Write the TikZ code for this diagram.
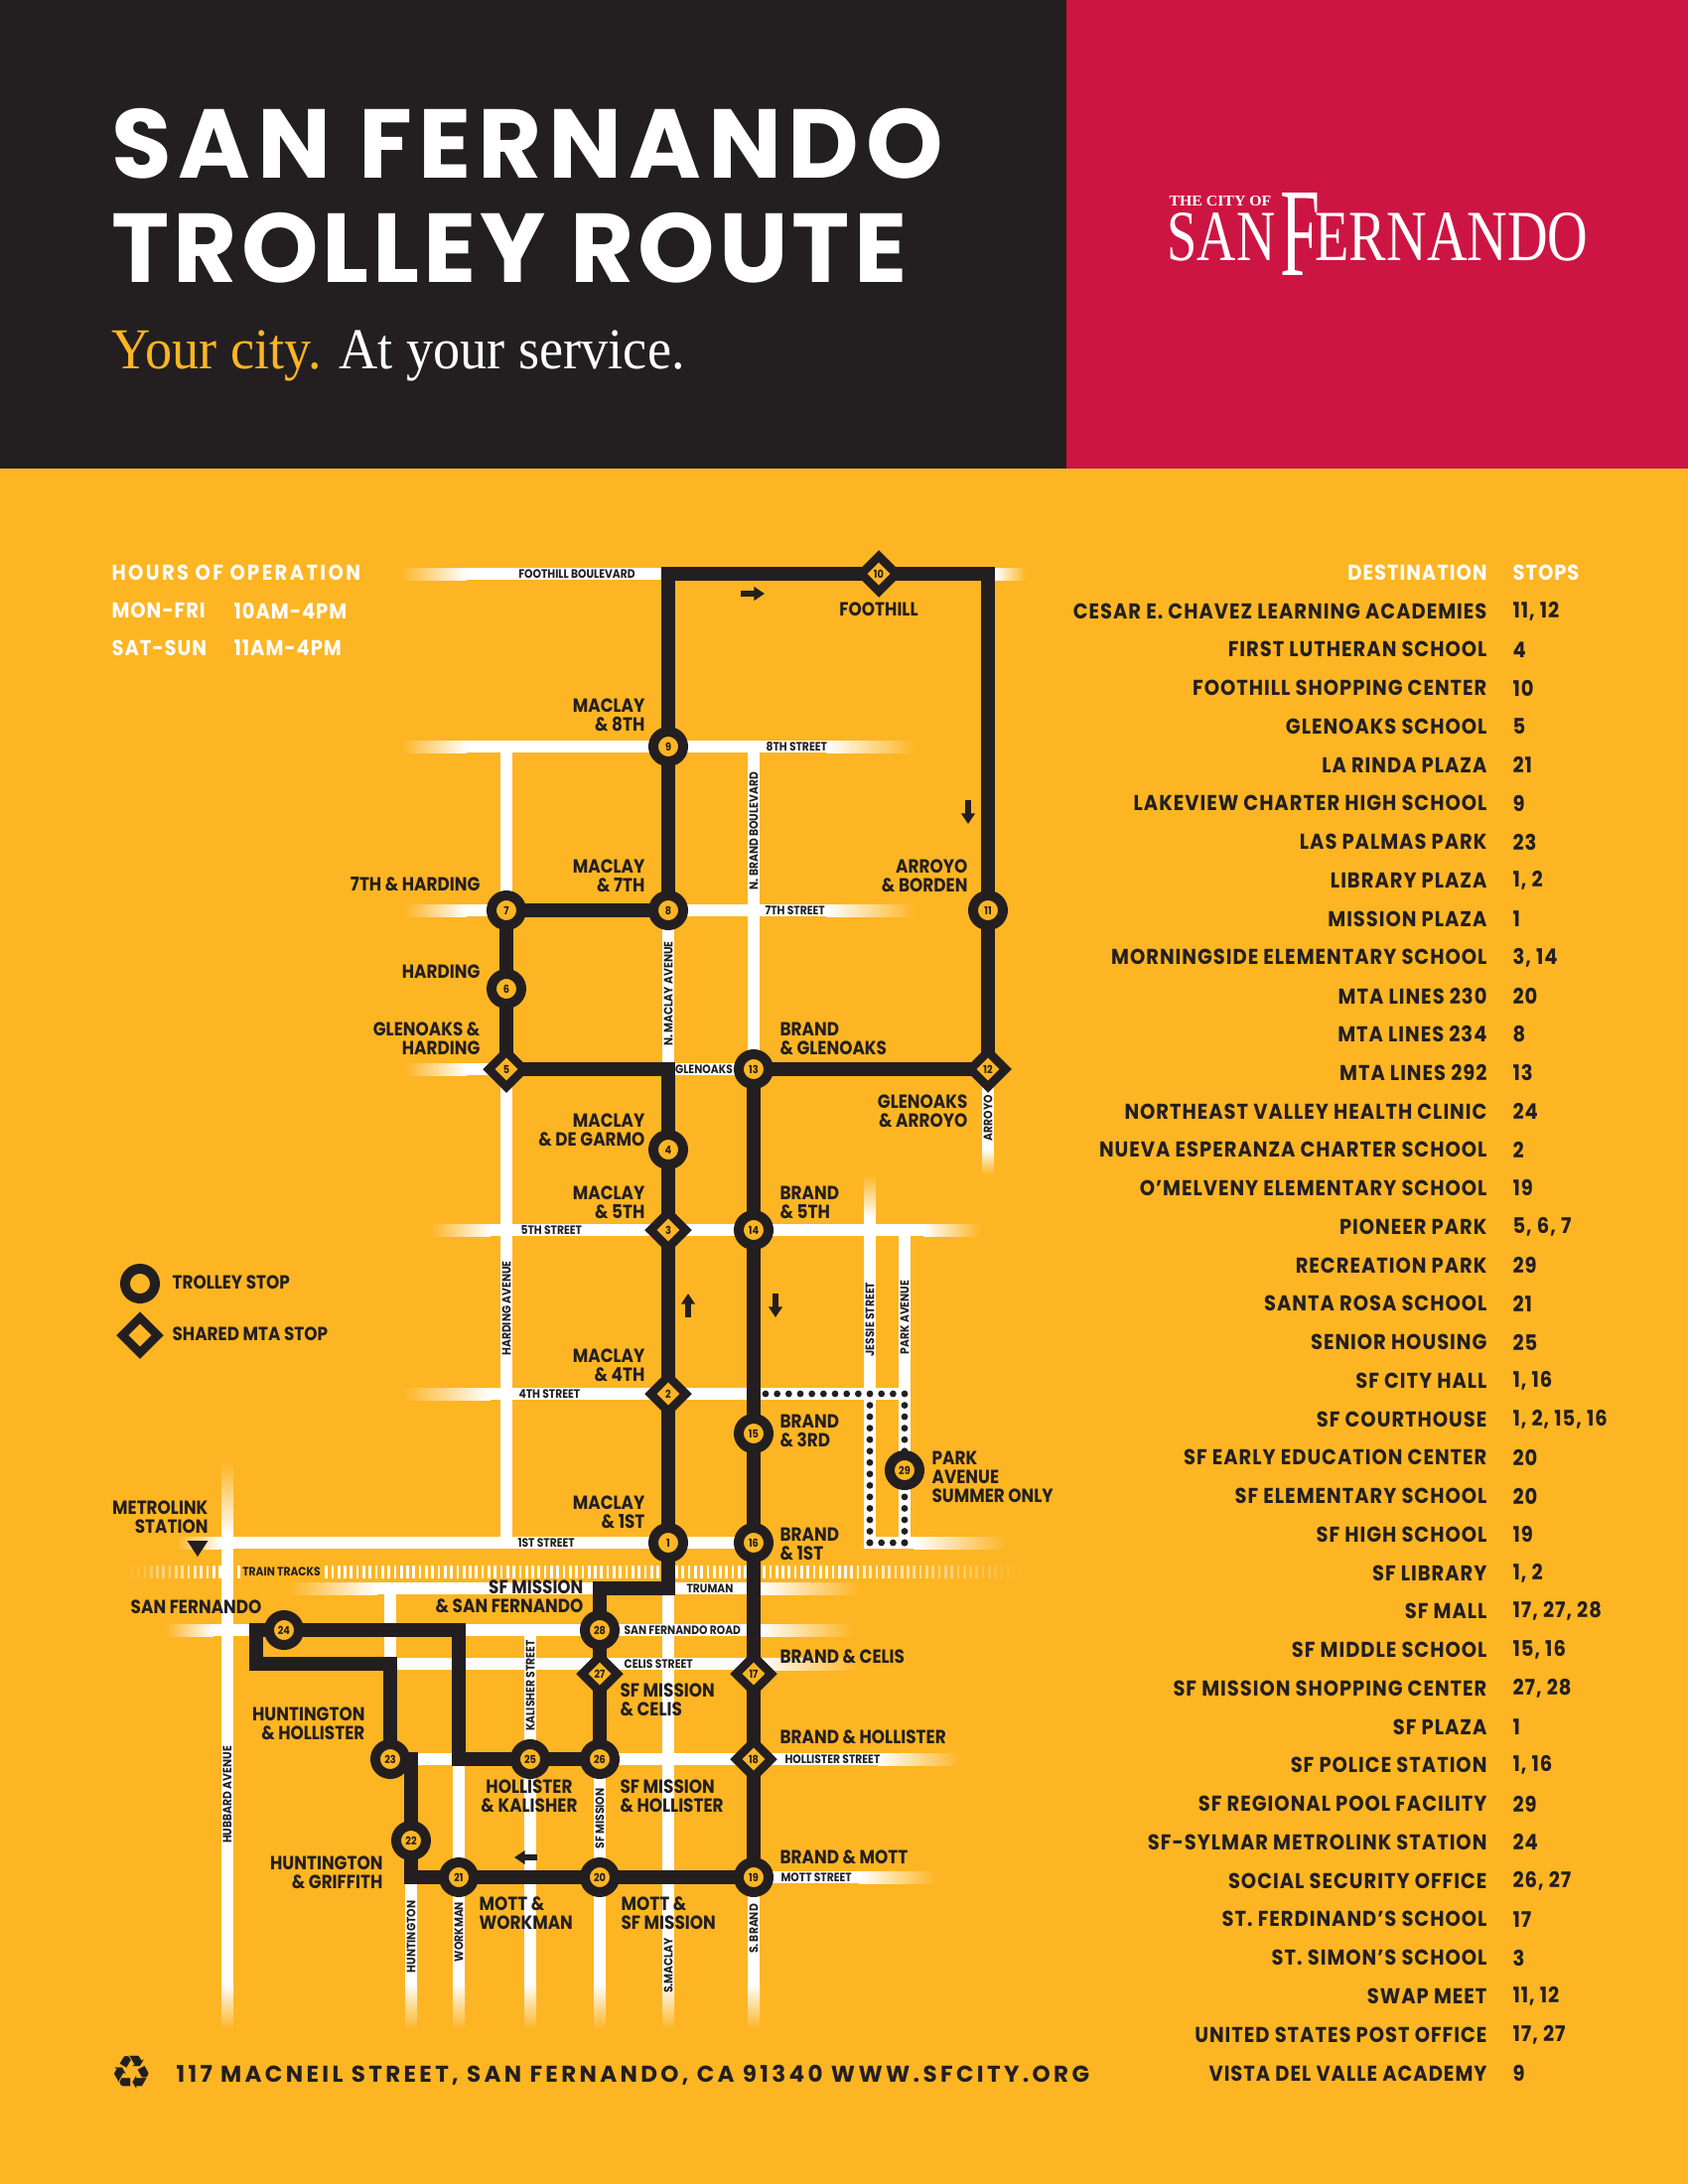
\documentclass[tikz,border=0pt]{standalone}
\usepackage{fontspec}
\usepackage{graphicx}
\usetikzlibrary{shapes.geometric,arrows.meta}
\newfontfamily\mapfont{Poppins}[FakeStretch=.88]
\newfontfamily\listfont{Poppins}[FakeStretch=.90,LetterSpace=4.5]
\newfontfamily\hoursfont{Poppins}[FakeStretch=.90,LetterSpace=11]
\newfontfamily\titlefontA{Poppins}[LetterSpace=6.8]
\newfontfamily\titlefontB{Poppins}[LetterSpace=4]
\newfontfamily\footfont{Poppins}[LetterSpace=14.5]
\newfontfamily\tagfont{Liberation Serif}[FakeStretch=.93]
\newfontfamily\logofont{Liberation Serif}
\newfontfamily\symbolfont{DejaVu Sans}
\definecolor{ink}{HTML}{231F20}
\definecolor{cityred}{HTML}{CD1543}
\definecolor{mapbg}{HTML}{FDB524}
\definecolor{taggold}{HTML}{FDB524}
\pgfdeclarelayer{roadlayer}
\pgfdeclarelayer{routelayer}
\pgfsetlayers{roadlayer,routelayer,main}
\newcommand{\fadeW}[3]{\shade[left color=mapbg,right color=white] (#1,#3-6) rectangle (#2,#3+6);}
\newcommand{\fadeE}[3]{\shade[left color=white,right color=mapbg] (#1,#3-6) rectangle (#2,#3+6);}
\newcommand{\fadeN}[3]{\shade[top color=mapbg,bottom color=white] (#3-6,#1) rectangle (#3+6,#2);}
\newcommand{\fadeS}[3]{\shade[top color=white,bottom color=mapbg] (#3-6,#1) rectangle (#3+6,#2);}

\begin{document}
\begin{tikzpicture}[x=.36pt,y=-.36pt,
    road/.style={draw=white,line width=4.4pt},
    tracktick/.style={draw=white,line width=.95pt},
    route/.style={draw=ink,line width=4.9pt,line join=miter},
    dirarrow/.style={draw=ink,line width=2pt,-{Triangle[length=3.8pt,width=4.8pt]}},
    stopcirc/.style={circle,draw=ink,line width=3.6pt,fill=mapbg,minimum size=10.8pt,inner sep=0pt,
        text=ink,font=\mapfont\bfseries\fontsize{4}{4}\selectfont},
    stopdiam/.style={diamond,aspect=1,draw=ink,line width=3.1pt,fill=mapbg,minimum size=14pt,inner sep=0pt,
        text=ink,font=\mapfont\bfseries\fontsize{4}{4}\selectfont},
    stoplabel/.style={text=ink,inner sep=0pt,font=\mapfont\bfseries\fontsize{6.9}{6.8}\selectfont},
    roadlabel/.style={text=ink,inner sep=0pt,font=\mapfont\bfseries\fontsize{4.4}{4.4}\selectfont},
    listlabel/.style={text=ink,inner sep=0pt,font=\listfont\bfseries\fontsize{7.8}{7.8}\selectfont},
    headlabel/.style={listlabel,text=white}]
    \useasboundingbox (0,0) rectangle (1700,2200);

    \begin{pgfonlayer}{roadlayer}
        \fill[mapbg] (0,0) rectangle (1700,2200);
        \fill[ink] (0,0) rectangle (1074,472);
        \fill[cityred] (1074,0) rectangle (1700,472);

        % streets running across
        \foreach \xa/\xb/\ry in {470/673/578,470/832/752,470/832/917,470/759/1077,494/930/1239,494/911/1404,
            222/759/1554,870/920/1554,380/765/1600,215/765/1642,393/765/1676,393/884/1772,759/865/1891}
            \draw[road] (\xa,\ry) -- (\xb,\ry);
        \fadeW{403}{470}{578} \fadeE{1002}{1033}{578}
        \fadeW{404}{470}{752} \fadeE{832}{921}{752}
        \fadeW{408}{470}{917} \fadeE{832}{921}{917}
        \fadeW{408}{470}{1077}
        \fadeW{433}{494}{1239} \fadeE{930}{987}{1239}
        \fadeW{406}{494}{1404}
        \fadeW{178}{222}{1554} \fadeE{920}{1013}{1554}
        \fadeW{291}{380}{1600} \fadeE{765}{865}{1600}
        \fadeW{167}{215}{1642} \fadeE{765}{859}{1642}
        \fadeE{765}{865}{1676}
        \fadeE{884}{967}{1772}
        \fadeE{865}{942}{1891}

        % streets running down
        \foreach \rx/\ya/\yb in {510/746/1560,759/752/1077,673/917/1077,995/1077/1157,876/1227/1560,911/1233/1560,
            229/1547/1998,393/1600/1676,414/1891/1998,462/1772/1998,534/1642/1998,604/1772/1998,673/1600/1998,759/1891/1998}
            \draw[road] (\rx,\ya) -- (\rx,\yb);
        \fadeS{1157}{1183}{995}
        \fadeN{1183}{1227}{876}
        \fadeN{1473}{1547}{229}
        \foreach \rx in {229,414,462,534,604,673,759} {
            \fadeS{1998}{2044}{\rx}
        }

        % train tracks
        \foreach \tx in {127,133.3,...,1033} {
            \pgfmathsetmacro\tk{max(0,min(1,min((\tx-127)/95,(1033-\tx)/200)))}
            \draw[tracktick,opacity=\tk] (\tx,1577) -- (\tx,1590);
        }

        % summer only loop
        \foreach \dn in {0,...,12}
            \fill[ink] (771+11.67*\dn,1404) circle[radius=3.4];
        \foreach \dn in {1,...,13} {
            \fill[ink] (876,1404+11.54*\dn) circle[radius=3.4];
            \fill[ink] (911,1404+11.54*\dn) circle[radius=3.4];
        }
        \foreach \dn in {0,...,3}
            \fill[ink] (876+11.67*\dn,1554) circle[radius=3.4];
    \end{pgfonlayer}

    % stops
    \foreach \n/\sx/\sy in {1/673/1554,4/673/1158,6/510/996,7/510/917,8/673/917,9/673/752,11/995/917,
        13/759/1077,14/759/1239,15/759/1444,16/759/1554,19/759/1891,20/604/1891,21/462/1891,22/414/1854,
        23/393/1772,24/286/1642,25/534/1772,26/604/1772,28/604/1642}
        \node[stopcirc] (s\n) at (\sx,\sy) {\n};
    \node[stopcirc] (s29) at (911,1481) {29};
    \foreach \n/\sx/\sy in {2/673/1404,3/673/1239,5/510/1077,10/885/578,12/995/1077,17/759/1686,18/759/1772,27/604/1686}
        \node[stopdiam] (s\n) at (\sx,\sy) {\n};

    % route corners
    \coordinate (cGlen) at (673,1077);
    \coordinate (cTopW) at (673,578);
    \coordinate (cTopE) at (995,578);
    \coordinate (cMott) at (414,1891);
    \coordinate (cHunt) at (414,1772);
    \coordinate (cCelE) at (393,1676);
    \coordinate (cCelW) at (258,1676);
    \coordinate (cSanW) at (258,1642);
    \coordinate (cSanE) at (462,1642);
    \coordinate (cHoll) at (462,1772);
    \coordinate (cMisT) at (604,1600);
    \coordinate (cMacT) at (673,1600);

    \begin{pgfonlayer}{routelayer}
        \draw[route] (s1.center) -- (s2.center) -- (s3.center) -- (s4.center) -- (cGlen) -- (s5.center)
            -- (s6.center) -- (s7.center) -- (s8.center) -- (s9.center) -- (cTopW) -- (s10.center) -- (cTopE)
            -- (s11.center) -- (s12.center) -- (s13.center) -- (s14.center) -- (s15.center) -- (s16.center)
            -- (s17.center) -- (s18.center) -- (s19.center) -- (s20.center) -- (s21.center) -- (cMott)
            -- (s22.center) -- (cHunt) -- (s23.center) -- (cCelE) -- (cCelW) -- (cSanW) -- (s24.center)
            -- (cSanE) -- (cHoll) -- (s25.center) -- (s26.center) -- (s27.center) -- (s28.center)
            -- (cMisT) -- (cMacT) -- (s1.center);
    \end{pgfonlayer}

    % direction of travel
    \draw[dirarrow] (746,598) -- (770,598);
    \draw[dirarrow] (975,806) -- (975,830);
    \draw[dirarrow] (693,1327) -- (693,1303);
    \draw[dirarrow] (781,1303) -- (781,1327);
    \draw[dirarrow] (541,1871) -- (518,1871);

    % header
    \node[anchor=base west,inner sep=0pt,text=white,font=\titlefontA\bfseries\fontsize{35.5}{36}\selectfont] (titleA) at (112,180) {SAN FERNANDO};
    \node[anchor=base west,inner sep=0pt,text=white,font=\titlefontB\bfseries\fontsize{35.5}{36}\selectfont] (titleB) at (112,285) {TROLLEY ROUTE};
    \node[anchor=base west,inner sep=0pt,font=\tagfont\fontsize{21}{21}\selectfont] (tagline) at (112,371) {\textcolor{taggold}{Your city.} \textcolor{white}{At your service.}};
    \node[anchor=base west,inner sep=0pt,text=white,font=\logofont\bfseries] (logoCity) at (1177,208) {\resizebox{37pt}{3.6pt}{THE CITY OF}};
    \node[anchor=base west,inner sep=0pt,text=white,font=\logofont] (logoSan) at (1175,263) {\resizebox{39.2pt}{17.3pt}{SAN}};
    \node[anchor=base west,inner sep=0pt,text=white,font=\logofont] (logoF) at (1289,278) {\resizebox{14.4pt}{29.9pt}{F}};
    \node[anchor=base west,inner sep=0pt,text=white,font=\logofont] (logoRest) at (1324,263) {\resizebox{99pt}{17.3pt}{ERNANDO}};

    % hours
    \node[headlabel,anchor=west,font=\hoursfont\bfseries\fontsize{7.8}{7.8}\selectfont] (hoursHead) at (112,577) {HOURS OF OPERATION};
    \node[headlabel,anchor=west] (monDays) at (112,615) {MON-FRI};
    \node[headlabel,anchor=west] (monTime) at (235,615) {10AM-4PM};
    \node[headlabel,anchor=west] (satDays) at (112,653) {SAT-SUN};
    \node[headlabel,anchor=west] (satTime) at (235,653) {11AM-4PM};

    % legend
    \node[stopcirc] (legendCirc) at (141,1293) {};
    \node[stopdiam] (legendDiam) at (141,1345) {};
    \node[stoplabel,anchor=west] (legendCircText) at (173,1292) {TROLLEY STOP};
    \node[stoplabel,anchor=west] (legendDiamText) at (173,1344) {SHARED MTA STOP};

    % labels left of their stops
    \foreach \lname/\lx/\ly/\ltext in {
        maclay8/650/720/{MACLAY\\\& 8TH},
        maclay7/650/882/{MACLAY\\\& 7TH},
        harding7/484/891/{7TH \& HARDING},
        harding6/484/979/{HARDING},
        harding5/484/1046/{GLENOAKS \&\\HARDING},
        garmo/650/1138/{MACLAY\\\& DE GARMO},
        maclay5/650/1211/{MACLAY\\\& 5TH},
        maclay4/650/1375/{MACLAY\\\& 4TH},
        maclay1/650/1523/{MACLAY\\\& 1ST},
        metro/210/1528/{METROLINK\\STATION},
        sfmiss/588/1608/{SF MISSION\\\& SAN FERNANDO},
        sanfer/264/1619/{SAN FERNANDO},
        huntH/368/1736/{HUNTINGTON\\\& HOLLISTER},
        huntG/386/1886/{HUNTINGTON\\\& GRIFFITH},
        arroyoB/975/882/{ARROYO\\\& BORDEN},
        arroyoG/975/1119/{GLENOAKS\\\& ARROYO}}
        \node[stoplabel,anchor=east,align=right] (l\lname) at (\lx,\ly) {\ltext};

    % labels right of their stops
    \foreach \lname/\lx/\ly/\ltext in {
        brandG/785/1046/{BRAND\\\& GLENOAKS},
        brand5/785/1211/{BRAND\\\& 5TH},
        brand3/785/1441/{BRAND\\\& 3RD},
        park/938/1488/{PARK\\AVENUE\\SUMMER ONLY},
        brand1/785/1555/{BRAND\\\& 1ST},
        brandC/785/1669/{BRAND \& CELIS},
        missC/624/1712/{SF MISSION\\\& CELIS},
        brandH/785/1750/{BRAND \& HOLLISTER},
        missH/624/1809/{SF MISSION\\\& HOLLISTER},
        brandM/785/1871/{BRAND \& MOTT},
        mottW/482/1927/{MOTT \&\\WORKMAN},
        mottM/625/1927/{MOTT \&\\SF MISSION}}
        \node[stoplabel,anchor=west,align=left] (l\lname) at (\lx,\ly) {\ltext};

    \node[stoplabel] (lfoot) at (885,614) {FOOTHILL};
    \node[stoplabel,align=center] (lhollK) at (533,1809) {HOLLISTER\\\& KALISHER};
    \fill[ink] (188.5,1552) -- (209.5,1552) -- (199,1568) -- cycle;

    % street names across
    \node[roadlabel] (nFoothill) at (581,578) {FOOTHILL BOULEVARD};
    \node[roadlabel] (nGlenoaks) at (709,1077) {GLENOAKS};
    \node[roadlabel] (nTruman) at (715,1600) {TRUMAN};
    \foreach \lname/\lx/\ly/\ltext in {
        eighth/771/752/{8TH STREET},
        seventh/770/917/{7TH STREET},
        fifth/524/1239/{5TH STREET},
        fourth/522/1404/{4TH STREET},
        first/521/1554/{1ST STREET},
        sanroad/628/1642/{SAN FERNANDO ROAD},
        celis/628/1676/{CELIS STREET},
        hollister/790/1772/{HOLLISTER STREET},
        mott/786/1891/{MOTT STREET}}
        \node[roadlabel,anchor=west] (n\lname) at (\lx,\ly) {\ltext};
    \node[roadlabel,anchor=west,fill=mapbg,inner xsep=1pt,minimum height=5.5pt] (nTracks) at (241,1583) {TRAIN TRACKS};

    % street names down
    \foreach \lname/\lx/\ly/\ltext in {
        nbrand/759/837/{N. BRAND BOULEVARD},
        nmaclay/673/1001/{N. MACLAY AVENUE},
        arroyo/995/1126/{ARROYO},
        harding/510/1318/{HARDING AVENUE},
        jessie/876/1329/{JESSIE STREET},
        parkave/911/1327/{PARK AVENUE},
        hubbard/229/1808/{HUBBARD AVENUE},
        kalisher/534/1698/{KALISHER STREET},
        mission/604/1832/{SF MISSION},
        huntington/414/1951/{HUNTINGTON},
        workman/462/1946/{WORKMAN},
        smaclay/673/1980/{S.MACLAY},
        sbrand/759/1943/{S. BRAND}}
        \node[roadlabel,rotate=90] (n\lname) at (\lx,\ly) {\ltext};

    % destinations
    \node[headlabel,anchor=east] (destHead) at (1498,577) {DESTINATION};
    \node[headlabel,anchor=west] (stopsHead) at (1523,577) {STOPS};
    \foreach \dname/\dstops [count=\i from 0] in {
        CESAR E. CHAVEZ LEARNING ACADEMIES/{11, 12},
        FIRST LUTHERAN SCHOOL/{4},
        FOOTHILL SHOPPING CENTER/{10},
        GLENOAKS SCHOOL/{5},
        LA RINDA PLAZA/{21},
        LAKEVIEW CHARTER HIGH SCHOOL/{9},
        LAS PALMAS PARK/{23},
        LIBRARY PLAZA/{1, 2},
        MISSION PLAZA/{1},
        MORNINGSIDE ELEMENTARY SCHOOL/{3, 14},
        MTA LINES 230/{20},
        MTA LINES 234/{8},
        MTA LINES 292/{13},
        NORTHEAST VALLEY HEALTH CLINIC/{24},
        NUEVA ESPERANZA CHARTER SCHOOL/{2},
        O’MELVENY ELEMENTARY SCHOOL/{19},
        PIONEER PARK/{5, 6, 7},
        RECREATION PARK/{29},
        SANTA ROSA SCHOOL/{21},
        SENIOR HOUSING/{25},
        SF CITY HALL/{1, 16},
        SF COURTHOUSE/{1, 2, 15, 16},
        SF EARLY EDUCATION CENTER/{20},
        SF ELEMENTARY SCHOOL/{20},
        SF HIGH SCHOOL/{19},
        SF LIBRARY/{1, 2},
        SF MALL/{17, 27, 28},
        SF MIDDLE SCHOOL/{15, 16},
        SF MISSION SHOPPING CENTER/{27, 28},
        SF PLAZA/{1},
        SF POLICE STATION/{1, 16},
        SF REGIONAL POOL FACILITY/{29},
        SF-SYLMAR METROLINK STATION/{24},
        SOCIAL SECURITY OFFICE/{26, 27},
        ST. FERDINAND’S SCHOOL/{17},
        ST. SIMON’S SCHOOL/{3},
        SWAP MEET/{11, 12},
        UNITED STATES POST OFFICE/{17, 27},
        VISTA DEL VALLE ACADEMY/{9}} {
        \node[listlabel,anchor=east] (dest\i) at (1498,615.5+38.76*\i) {\dname};
        \node[listlabel,anchor=west] (stops\i) at (1523,615.5+38.76*\i) {\dstops};
    }

    % footer
    \node[inner sep=0pt,text=ink,font=\symbolfont\fontsize{17}{17}\selectfont] (recycle) at (133,2088) {♻};
    \node[anchor=west,inner sep=0pt,text=ink,font=\footfont\bfseries\fontsize{8.3}{8.3}\selectfont] (address) at (177,2090) {117 MACNEIL STREET, SAN FERNANDO, CA 91340 WWW.SFCITY.ORG};
\end{tikzpicture}
\end{document}
